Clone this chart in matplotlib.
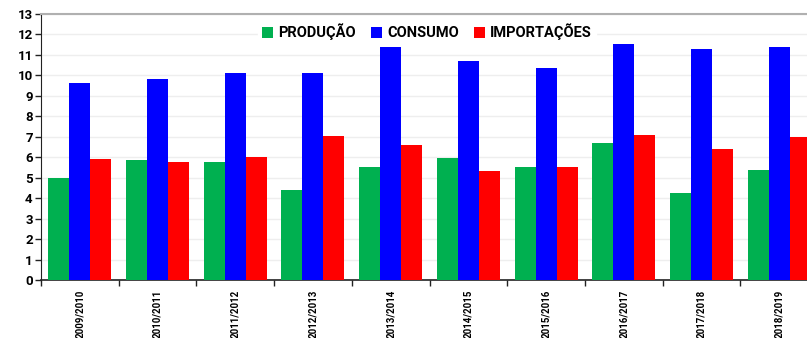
import matplotlib
matplotlib.use("Agg")
import matplotlib.pyplot as plt
import numpy as np
from matplotlib.patches import Patch

categories = ["2009/2010", "2010/2011", "2011/2012", "2012/2013", "2013/2014",
              "2014/2015", "2015/2016", "2016/2017", "2017/2018", "2018/2019"]
producao = [5.00, 5.87, 5.78, 4.38, 5.52, 5.95, 5.52, 6.71, 4.25, 5.39]
consumo = [9.63, 9.82, 10.13, 10.13, 11.40, 10.70, 10.38, 11.52, 11.27, 11.40]
importacoes = [5.90, 5.78, 6.01, 7.02, 6.62, 5.35, 5.52, 7.07, 6.39, 6.99]
series_names = ["PRODUÇÃO", "CONSUMO", "IMPORTAÇÕES"]
colors = ["#00b050", "#0000ff", "#ff0000"]

plt.rcParams['font.family'] = ['Roboto', 'DejaVu Sans']

fig = plt.figure(figsize=(8.07, 3.38), dpi=100)
W, H = 807, 338
left_px, right_px, top_px, bot_px = 41, 818, 14, 280
ax = fig.add_axes([left_px / W, (H - bot_px) / H, (right_px - left_px) / W, (bot_px - top_px) / H])

x = np.arange(len(categories))
bw = 0.27
for i, (vals, c) in enumerate(zip([producao, consumo, importacoes], colors)):
    ax.bar(x + (i - 1) * bw, vals, width=bw, color=c, zorder=3, linewidth=0)

ax.set_xlim(-0.5, len(categories) - 0.5)
ax.set_ylim(0, 13)
ax.set_yticks(range(0, 14))
ax.grid(axis='y', color='#eeeeee', linewidth=1, zorder=0)

ax.set_xticks(x)
ax.set_xticklabels(categories, rotation=90, fontsize=7.0, fontweight='bold')
ax.tick_params(axis='x', which='major', length=0, pad=7)
ax.set_xticks(np.arange(-0.5, len(categories)), minor=True)
ax.tick_params(axis='x', which='minor', length=4, width=1, color='#222222', direction='out')
ax.tick_params(axis='y', length=4, width=1, color='#222222', labelsize=9.5, pad=2)
for lab in ax.get_yticklabels():
    lab.set_fontweight('bold')

ax.spines['right'].set_visible(False)
ax.spines['top'].set_color('#b0b0b0')
ax.spines['top'].set_linewidth(1.5)
ax.spines['left'].set_color('#222222')
ax.spines['bottom'].set_color('#222222')
ax.spines['bottom'].set_linewidth(1.2)

handles = [Patch(facecolor=c, edgecolor='none') for c in colors]
leg = ax.legend(handles, series_names, loc='upper center', bbox_to_anchor=(0.497, 1.008),
                ncol=3, frameon=True, fancybox=False, edgecolor='white', framealpha=1,
                prop={'weight': 'bold', 'size': 10.5}, handlelength=0.75, handleheight=0.75,
                handletextpad=0.35, columnspacing=1.05, borderpad=0.3)
leg.set_zorder(2.5)

fig.savefig("out.png", dpi=100)
